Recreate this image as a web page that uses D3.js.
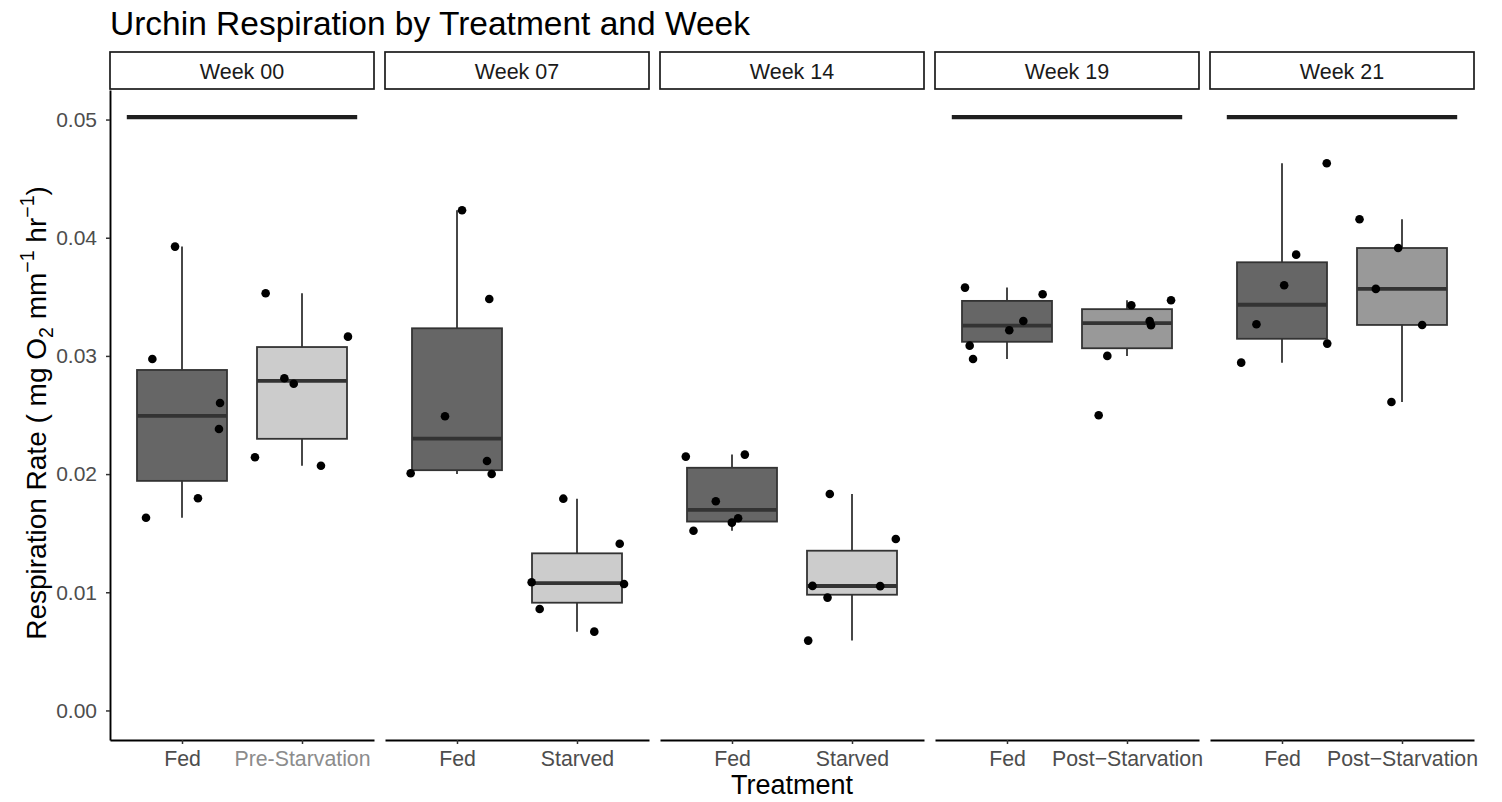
<!DOCTYPE html>
<html>
<head>
<meta charset="utf-8">
<script src="https://cdn.jsdelivr.net/npm/d3@7"></script>
<style>
  body { margin: 0; background: #fff; }
  svg { display: block; font-family: "Liberation Sans", Arial, Helvetica, sans-serif; }
</style>
</head>
<body>
<svg id="chart" width="1502" height="802"></svg>
<script>
// ---- data ----------------------------------------------------------------
const weeks = ["Week 00", "Week 07", "Week 14", "Week 19", "Week 21"];
const compTreatment = ["Pre-Starvation", "Starved", "Starved", "Post−Starvation", "Post−Starvation"];

// respiration rate (mg O2 mm^-1 hr^-1), one row per week
const fedRates = [
  [0.03925, 0.02974, 0.02602, 0.02382, 0.01796, 0.01631],
  [0.04233, 0.03482, 0.02489, 0.02111, 0.02007, 0.02001],
  [0.02148, 0.02165, 0.01770, 0.01626, 0.01589, 0.01521],
  [0.03578, 0.03522, 0.03296, 0.03217, 0.03087, 0.02974],
  [0.04630, 0.03857, 0.03598, 0.03268, 0.03104, 0.02943]
];
const compRates = [
  [0.03530, 0.03163, 0.02811, 0.02765, 0.02143, 0.02071],
  [0.01792, 0.01411, 0.01085, 0.01070, 0.00859, 0.00667],
  [0.01832, 0.01451, 0.01054, 0.01052, 0.00955, 0.00591],
  [0.03471, 0.03429, 0.03296, 0.03259, 0.03000, 0.02498],
  [0.04156, 0.03913, 0.03567, 0.03262, 0.02610]
];
// horizontal jitter of each point, in category steps
const fedJitter = [
  [-0.058, -0.247, 0.317, 0.308, 0.133, -0.300],
  [0.042, 0.269, -0.100, 0.250, -0.386, 0.289],
  [-0.385, 0.107, -0.135, 0.051, -0.001, -0.321],
  [-0.350, 0.297, 0.136, 0.019, -0.311, -0.283],
  [0.373, 0.118, 0.018, -0.213, 0.377, -0.340]
];
const compJitter = [
  [-0.303, 0.383, -0.147, -0.069, -0.392, 0.158],
  [-0.114, 0.356, -0.378, 0.392, -0.311, 0.144],
  [-0.185, 0.365, -0.329, 0.235, -0.204, -0.365],
  [0.367, 0.036, 0.189, 0.200, -0.164, -0.236],
  [-0.354, -0.032, -0.218, 0.168, -0.088]
];
// weeks carrying the bar drawn across both groups
const barWeeks = ["Week 00", "Week 19", "Week 21"];
const barLevel = 0.0502;

const yTicks = [0, 0.01, 0.02, 0.03, 0.04, 0.05];

// ---- styles --------------------------------------------------------------
const fills = {
  "Fed": "#666666",
  "Pre-Starvation": "#cccccc",
  "Starved": "#cccccc",
  "Post−Starvation": "#999999"
};
const labelColors = { "Pre-Starvation": "#8c8c8c" };

// ---- layout --------------------------------------------------------------
const plotLeft = 110, plotRight = 1474;
const panelTop = 90, panelBottom = 740;
const stripTop = 52;

const svg = d3.select("#chart");
svg.append("rect").attr("width", 1502).attr("height", 802).attr("fill", "#fff");

const panelX = d3.scaleBand().domain(weeks).range([plotLeft, plotRight])
  .paddingInner(0.04).paddingOuter(0);
const bw = panelX.bandwidth();

const yMin = d3.min(yTicks), yMax = d3.max(yTicks);
const yPad = 0.05 * (yMax - yMin);
const y = d3.scaleLinear().domain([yMin - yPad, yMax + yPad]).range([panelBottom, panelTop]);

// title
svg.append("text")
  .attr("x", plotLeft).attr("y", 35)
  .attr("font-size", 33.5).attr("fill", "#000")
  .text("Urchin Respiration by Treatment and Week");

function boxStats(vals) {
  const s = vals.slice().sort(d3.ascending);
  const q1 = d3.quantileSorted(s, 0.25);
  const med = d3.quantileSorted(s, 0.5);
  const q3 = d3.quantileSorted(s, 0.75);
  const iqr = q3 - q1;
  const lo = d3.min(s.filter(v => v >= q1 - 1.5 * iqr));
  const hi = d3.max(s.filter(v => v <= q3 + 1.5 * iqr));
  return { q1, med, q3, lo, hi };
}

weeks.forEach((wk, i) => {
  const g = svg.append("g").attr("transform", `translate(${panelX(wk)},0)`);
  const cats = ["Fed", compTreatment[i]];
  const x = d3.scalePoint().domain(cats).range([0, bw]).padding(0.6);
  const step = x.step();
  const boxW = 0.75 * step;

  // strip
  g.append("rect")
    .attr("x", 0).attr("y", stripTop).attr("width", bw).attr("height", panelTop - stripTop - 1)
    .attr("fill", "#fff").attr("stroke", "#1a1a1a").attr("stroke-width", 1.7);
  g.append("text")
    .attr("x", bw / 2).attr("y", (stripTop + panelTop) / 2 + 7.5)
    .attr("text-anchor", "middle").attr("font-size", 21.5).attr("fill", "#1a1a1a")
    .text(wk);

  // bar across both groups
  if (barWeeks.includes(wk)) {
    g.append("line")
      .attr("x1", x(cats[0]) - 0.46 * step).attr("x2", x(cats[1]) + 0.46 * step)
      .attr("y1", y(barLevel)).attr("y2", y(barLevel))
      .attr("stroke", "#1f1f1f").attr("stroke-width", 4.2);
  }

  const groups = [
    { t: cats[0], vals: fedRates[i], jit: fedJitter[i] },
    { t: cats[1], vals: compRates[i], jit: compJitter[i] }
  ];

  groups.forEach(gr => {
    const st = boxStats(gr.vals);
    const cx = x(gr.t);
    const bg = g.append("g");
    // whiskers
    bg.append("line").attr("x1", cx).attr("x2", cx).attr("y1", y(st.hi)).attr("y2", y(st.q3))
      .attr("stroke", "#333").attr("stroke-width", 1.8);
    bg.append("line").attr("x1", cx).attr("x2", cx).attr("y1", y(st.q1)).attr("y2", y(st.lo))
      .attr("stroke", "#333").attr("stroke-width", 1.8);
    // box
    bg.append("rect")
      .attr("x", cx - boxW / 2).attr("width", boxW)
      .attr("y", y(st.q3)).attr("height", y(st.q1) - y(st.q3))
      .attr("fill", fills[gr.t]).attr("stroke", "#333").attr("stroke-width", 1.8);
    // median
    bg.append("line")
      .attr("x1", cx - boxW / 2).attr("x2", cx + boxW / 2)
      .attr("y1", y(st.med)).attr("y2", y(st.med))
      .attr("stroke", "#333").attr("stroke-width", 3.8);
  });

  // jittered observations
  groups.forEach(gr => {
    g.append("g").selectAll("circle")
      .data(gr.vals.map((v, k) => ({ v, j: gr.jit[k] })))
      .join("circle")
      .attr("cx", d => x(gr.t) + d.j * step)
      .attr("cy", d => y(d.v))
      .attr("r", 4.3)
      .attr("fill", "#000");
  });

  // x axis
  const ax = g.append("g").attr("transform", `translate(0,${panelBottom})`)
    .call(d3.axisBottom(x).tickSize(4).tickSizeOuter(0).tickPadding(7));
  ax.select(".domain").attr("stroke", "#000").attr("stroke-width", 1.9);
  ax.selectAll(".tick line").attr("stroke", "#333").attr("stroke-width", 1.5);
  ax.selectAll(".tick text")
    .attr("font-size", 21.3).attr("font-family", null)
    .attr("fill", d => labelColors[d] || "#4d4d4d");

  // y axis on the first panel
  if (i === 0) {
    const ay = g.append("g")
      .call(d3.axisLeft(y).tickValues(yTicks).tickFormat(d3.format(".2f"))
        .tickSize(4).tickSizeOuter(0).tickPadding(9));
    ay.select(".domain").attr("stroke", "#000").attr("stroke-width", 1.9);
    ay.selectAll(".tick line").attr("stroke", "#333").attr("stroke-width", 1.5);
    ay.selectAll(".tick text").attr("font-size", 21).attr("font-family", null).attr("fill", "#4d4d4d");
  }
});

// axis titles
svg.append("text")
  .attr("x", (plotLeft + plotRight) / 2).attr("y", 794)
  .attr("text-anchor", "middle").attr("font-size", 27).attr("fill", "#000")
  .text("Treatment");

const yt = svg.append("text")
  .attr("transform", `translate(46,${(panelTop + panelBottom) / 2 - 2}) rotate(-90)`)
  .attr("text-anchor", "middle").attr("font-size", 28).attr("fill", "#000");
yt.append("tspan").text("Respiration Rate ( mg O");
yt.append("tspan").attr("font-size", 19.5).attr("dy", 6.5).text("2");
yt.append("tspan").attr("dy", -6.5).text(" mm");
yt.append("tspan").attr("font-size", 19.5).attr("dy", -12).text("−1");
yt.append("tspan").attr("dy", 12).text(" hr");
yt.append("tspan").attr("font-size", 19.5).attr("dy", -12).text("−1");
yt.append("tspan").attr("dy", 12).text(")");
</script>
</body>
</html>
